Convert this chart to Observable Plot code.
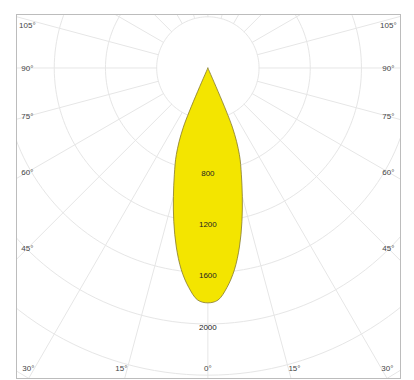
<!DOCTYPE html>
<html><head><meta charset="utf-8">
<script src="https://cdn.jsdelivr.net/npm/d3@7"></script>
<script src="https://cdn.jsdelivr.net/npm/@observablehq/plot@0.6"></script>
<style>body{margin:0;background:#fff;} svg{display:block}</style>
</head><body><div id="chart"></div>
<script>
// Luminous intensity (cd) vs angle from nadir (degrees), symmetric beam
const angles = [0, 2.5, 5, 7.5, 10, 12.5, 15, 17.5, 20, 22.5, 25];
const intensity = [1835, 1815, 1720, 1590, 1420, 1230, 1040, 870, 720, 500, 0];
const ringValues = [400, 800, 1200, 1600, 2000, 2400, 2800, 3200];
const ringLabels = [800, 1200, 1600, 2000];
const spokeAngles = d3.range(0, 360, 15);
const sideLabels = [105, 90, 75, 60, 45];
const bottomLabels = [30, 15, 0];

const rad = d => d * Math.PI / 180;
const toXY = (a, r) => ({x: r * Math.sin(rad(a)), y: -r * Math.cos(rad(a))});

// beam polygon (mirrored)
const curve = [];
for (let i = angles.length - 1; i >= 0; i--) curve.push(toXY(-angles[i], intensity[i]));
for (let i = 1; i < angles.length; i++) curve.push(toXY(angles[i], intensity[i]));

// grid geometry
const ringPts = ringValues.flatMap(r => d3.range(0, 361, 2).map(a => ({...toXY(a, r), r})));
const spokePts = spokeAngles.flatMap(a => [400, 3600].map(r => ({...toXY(a, r), a})));

// label placement (inset from frame, in data units)
const k = 0.128;                 // px per cd
const sideX = (207.5 - 27) / k;  // side labels' center distance
const bottomY = -(368 - 67.5) / k;
const topClamp = (67.5 - 25) / k;
const sideLab = sideLabels.flatMap(a => [-1, 1].map(s => ({
  x: s * sideX,
  y: Math.min(-sideX * Math.cos(rad(a)) / Math.sin(rad(a)), topClamp),
  t: a + "°"
})));
const bottomLab = bottomLabels.flatMap(a => (a === 0 ? [0] : [-1, 1]).map(s => ({
  x: s * (-bottomY) * Math.tan(rad(a)),
  y: bottomY,
  t: a + "°",
  anchor: s < 0 ? "end" : s > 0 ? "start" : "middle"
})));
const ringLab = ringLabels.map(v => ({x: 0, y: -v, t: String(v)}));

const plot = Plot.plot({
  width: 414, height: 380,
  marginLeft: 16, marginRight: 14, marginTop: 14, marginBottom: 2,
  x: {domain: [-1495, 1505], axis: null},
  y: {domain: [-2426, 418], axis: null},
  style: {background: "#fff", fontFamily: "'Liberation Sans', Arial, sans-serif"},
  marks: [
    Plot.line(ringPts, {x: "x", y: "y", z: "r", stroke: "#e6e6e6", strokeWidth: 1, clip: true}),
    Plot.line(spokePts, {x: "x", y: "y", z: "a", stroke: "#e6e6e6", strokeWidth: 1, clip: true}),
    Plot.line(curve, {x: "x", y: "y", fill: "#f3e500", stroke: "#857a2e", strokeWidth: 0.8, curve: "catmull-rom"}),
    Plot.text(ringLab, {x: "x", y: "y", text: "t", dy: 3, fontSize: 8, fill: "#222"}),
    Plot.text(sideLab, {x: "x", y: "y", text: "t", fontSize: 8, fill: "#444"}),
    Plot.text(bottomLab.filter(d => d.anchor === "end"), {x: "x", y: "y", text: "t", textAnchor: "end", fontSize: 8, fill: "#444"}),
    Plot.text(bottomLab.filter(d => d.anchor === "start"), {x: "x", y: "y", text: "t", textAnchor: "start", fontSize: 8, fill: "#444"}),
    Plot.text(bottomLab.filter(d => d.anchor === "middle"), {x: "x", y: "y", text: "t", fontSize: 8, fill: "#444"}),
    Plot.frame({stroke: "#bcbcbc"})
  ]
});
document.getElementById("chart").append(plot);
</script>
</body></html>
